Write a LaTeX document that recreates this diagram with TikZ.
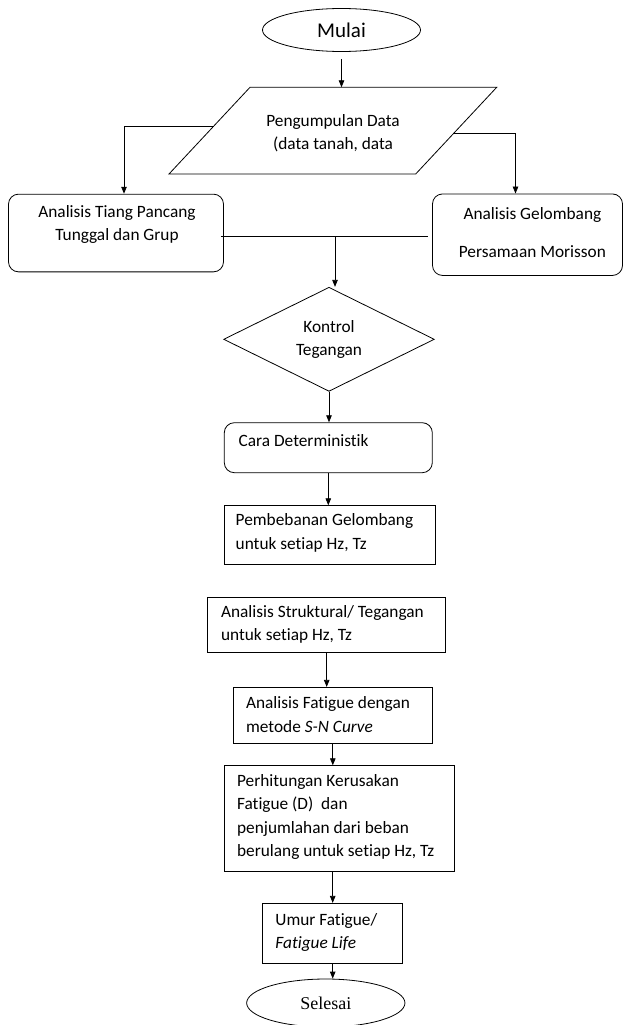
\documentclass[tikz,border=0pt]{standalone}
\usepackage{fontspec}
\setmainfont[Ligatures={NoCommon,NoRare,NoContextual}]{Carlito}
\newfontfamily\timesfont{Liberation Serif}
\usetikzlibrary{shapes.geometric,arrows.meta,calc}

\begin{document}
\begin{tikzpicture}[x=1pt,y=-1pt,line width=0.8pt,
  txt/.style={inner sep=0pt,font=\fontsize{17.3}{23.2}\selectfont},
  boxed/.style={draw,minimum width=#1},
  rbox/.style={draw,rounded corners=10pt,minimum width=#1},
  arr/.style={-{Triangle[length=7pt,width=5.5pt]}}]
\useasboundingbox (0,0) rectangle (623,1025);

% Mulai
\node[draw,ellipse,minimum width=158,minimum height=43,inner sep=0pt,
  font=\fontsize{21}{24}\selectfont] (mulai) at (341.5,30) {Mulai};

% Pengumpulan Data
\coordinate (pa) at (250,87.3);
\coordinate (pb) at (496.7,87.3);
\coordinate (pc) at (415.7,174);
\coordinate (pd) at (169,174);
\draw (pa) -- (pb) -- (pc) -- (pd) -- cycle;
\node[txt,align=center] (data) at (333,133) {Pengumpulan Data\\(data tanah, data};
\coordinate (dl) at ($(pa)!0.446!(pd)$);
\coordinate (dr) at ($(pb)!0.53!(pc)$);

\draw[arr,shorten <=7pt] (mulai.south) -- (mulai.south |- pa);

% Analisis Tiang Pancang
\node[rbox=215,minimum height=77.7] (tiang) at (116,233) {};
\node[txt,align=center] (tiang-t) at (117,224.7) {Analisis Tiang Pancang\\Tunggal dan Grup};

% Analisis Gelombang
\node[rbox=190,minimum height=81.5] (gel) at (527.5,234.7) {};
\node[txt,align=center] (gel-t) at (532.4,232.6) {Analisis Gelombang\\[15.5pt]Persamaan Morisson};

\draw[arr] (dl) -| ([xshift=8pt]tiang.north);
\draw[arr] (dr) -| ([xshift=-12pt]gel.north);

% Kontrol Tegangan
\node[draw,diamond,minimum width=210.7,minimum height=98.7,inner sep=0pt,
  txt,align=center] (kontrol) at (329,339.3) {Kontrol\\Tegangan};

\coordinate (j) at (335,236.3);
\draw ([xshift=-3pt]tiang.east |- j) -- ([xshift=-4pt]gel.west |- j);
\draw[arr] (j) -- (j |- kontrol.north);

% Cara Deterministik
\node[rbox=208,minimum height=50] (cara) at (328.3,447.7) {};
\node[txt,anchor=west] (cara-t) at (238.3,440.7) {Cara Deterministik};
\draw[arr] (kontrol.south) -- (kontrol.south |- cara.north);

% Pembebanan Gelombang
\node[boxed=210.7,minimum height=58.6] (pemb) at (329.7,535) {};
\node[txt,anchor=west,align=left] (pemb-t) at (235.3,532.9) {Pembebanan Gelombang\\untuk setiap Hz, Tz};
\draw[arr] (cara.south) -- (cara.south |- pemb.north);

% Analisis Struktural
\node[boxed=238,minimum height=55.4] (struk) at (326.7,625) {};
\node[txt,anchor=west,align=left] (struk-t) at (220.7,624.7) {Analisis Struktural/ Tegangan\\untuk setiap Hz, Tz};

% Analisis Fatigue
\node[boxed=199,minimum height=56] (fatigue) at (332.8,715.3) {};
\node[txt,anchor=west,align=left] (fatigue-t) at (245.7,714.5) {Analisis Fatigue dengan\\metode \textit{S-N Curve}};
\draw[arr] (struk.south) -- (struk.south |- fatigue.north);

% Perhitungan Kerusakan
\node[boxed=229.7,minimum height=106] (hitung) at (339.2,818.7) {};
\node[txt,anchor=west,align=left] (hitung-t) at (236.7,817) {Perhitungan Kerusakan\\Fatigue (D)\ \ dan\\penjumlahan dari beban\\berulang untuk setiap Hz, Tz};
\draw[arr] (fatigue.south) -- (fatigue.south |- hitung.north);

% Umur Fatigue
\node[boxed=140,minimum height=60] (umur) at (332.7,933.3) {};
\node[txt,anchor=west,align=left] (umur-t) at (275,932.3) {Umur Fatigue/\\\textit{Fatigue Life}};
\draw[arr] (umur.north |- hitung.south) -- (umur.north);

% Selesai
\node[draw,ellipse,minimum width=158.3,minimum height=48,inner sep=0pt,
  font=\timesfont\fontsize{18}{20}\selectfont] (selesai) at (325.8,1003) {Selesai};
\draw[arr] (umur.south) -- (umur.south |- selesai.north);

\end{tikzpicture}
\end{document}
